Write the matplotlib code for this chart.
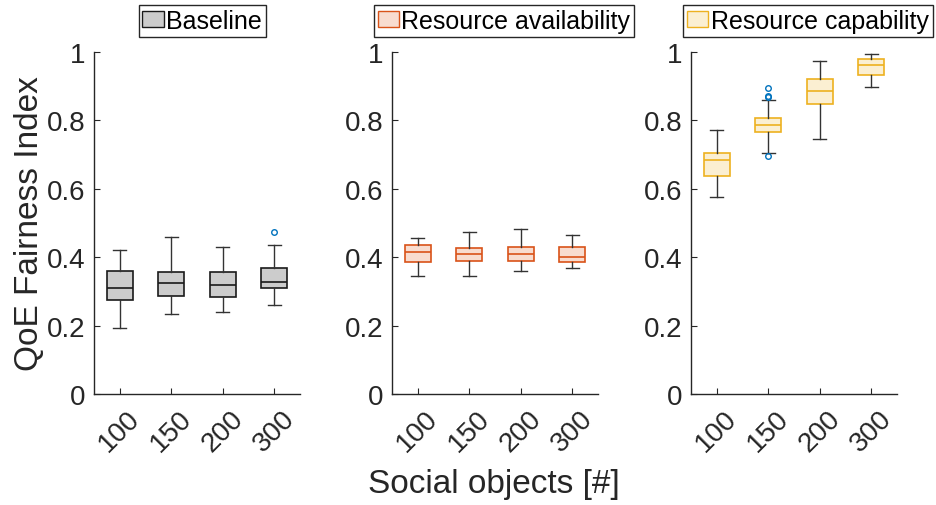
import matplotlib
matplotlib.use('Agg')
import matplotlib.pyplot as plt
from matplotlib.patches import Patch

plt.rcParams['font.family'] = ['Liberation Sans', 'DejaVu Sans']

categories = ['100', '150', '200', '300']
titles = ['Baseline', 'Resource availability', 'Resource capability']

# box statistics: whisker low, q1, median, q3, whisker high
base_lo = [0.192, 0.233, 0.241, 0.259]
base_q1 = [0.275, 0.286, 0.285, 0.310]
base_med = [0.309, 0.324, 0.320, 0.327]
base_q3 = [0.360, 0.358, 0.358, 0.368]
base_hi = [0.421, 0.460, 0.430, 0.435]
base_fliers = [[], [], [], [0.475]]

avail_lo = [0.345, 0.345, 0.361, 0.367]
avail_q1 = [0.386, 0.389, 0.388, 0.386]
avail_med = [0.416, 0.408, 0.408, 0.401]
avail_q3 = [0.437, 0.428, 0.430, 0.430]
avail_hi = [0.456, 0.473, 0.481, 0.465]
avail_fliers = [[], [], [], []]

cap_lo = [0.575, 0.706, 0.745, 0.897]
cap_q1 = [0.636, 0.767, 0.848, 0.934]
cap_med = [0.683, 0.786, 0.887, 0.962]
cap_q3 = [0.705, 0.807, 0.921, 0.980]
cap_hi = [0.773, 0.860, 0.975, 0.995]
cap_fliers = [[], [0.895, 0.870, 0.867, 0.697], [], []]

panels = [
    (base_lo, base_q1, base_med, base_q3, base_hi, base_fliers, '#cccccc', '#1a1a1a'),
    (avail_lo, avail_q1, avail_med, avail_q3, avail_hi, avail_fliers, '#f8dccf', '#D95319'),
    (cap_lo, cap_q1, cap_med, cap_q3, cap_hi, cap_fliers, '#fbefd2', '#EDB120'),
]

fig = plt.figure(figsize=(9.36, 5.06), dpi=100)
lefts = [94 / 936, 392 / 936, 691 / 936]
leg_x = [202 / 936, 504 / 936, 808 / 936]
axw = 206 / 936
bottom = (506 - 395) / 506
height = 342 / 506
axcol = '#262626'

for i, (lo, q1, med, q3, hi, fl, fc, ec) in enumerate(panels):
    ax = fig.add_axes([lefts[i], bottom, axw, height])
    stats = []
    for j in range(len(categories)):
        stats.append(dict(whislo=lo[j], q1=q1[j], med=med[j], q3=q3[j],
                          whishi=hi[j], fliers=fl[j]))
    ax.bxp(stats, positions=range(1, 5), widths=0.5, patch_artist=True,
           showfliers=True,
           boxprops=dict(facecolor=fc, edgecolor=ec, linewidth=1.2),
           medianprops=dict(color=ec, linewidth=1.2),
           whiskerprops=dict(color='#333333', linewidth=1.0),
           capprops=dict(color='#333333', linewidth=1.0),
           capwidths=0.25,
           flierprops=dict(marker='o', markersize=4, markerfacecolor='none',
                           markeredgecolor='#0072BD', markeredgewidth=1.0))
    ax.set_xlim(0.5, 4.5)
    ax.set_ylim(0, 1)
    ax.set_yticks([0, 0.2, 0.4, 0.6, 0.8, 1])
    ax.set_yticklabels(['0', '0.2', '0.4', '0.6', '0.8', '1'])
    ax.set_xticks(range(1, 5))
    ax.set_xticklabels(categories, rotation=45, ha='center', va='top')
    for s in ['top', 'right']:
        ax.spines[s].set_visible(False)
    for s in ['left', 'bottom']:
        ax.spines[s].set_color(axcol)
        ax.spines[s].set_linewidth(1.0)
    ax.tick_params(direction='in', length=4, width=0.8, colors=axcol,
                   labelsize=20, labelcolor=axcol)
    ax.tick_params(axis='x', pad=8)
    ax.tick_params(axis='y', pad=6)

    h = Patch(facecolor=fc, edgecolor=ec, linewidth=1.0)
    leg = fig.legend([h], [titles[i]], loc='center',
                     bbox_to_anchor=(leg_x[i], 1 - 22 / 506),
                     fontsize=18, handlelength=0.85, handleheight=0.6,
                     handletextpad=0.1, borderpad=0.15, borderaxespad=0,
                     fancybox=False, framealpha=1, edgecolor='#262626')
    leg.get_frame().set_linewidth(1.0)

fig.text(30 / 936, 1 - 224 / 506, 'QoE Fairness Index', rotation=90,
         ha='center', va='center', fontsize=24, color=axcol)
fig.text(494 / 936, 1 - 485 / 506, 'Social objects [#]', ha='center',
         va='center', fontsize=24, color=axcol)

fig.savefig('out.png', dpi=100)
plt.close(fig)
